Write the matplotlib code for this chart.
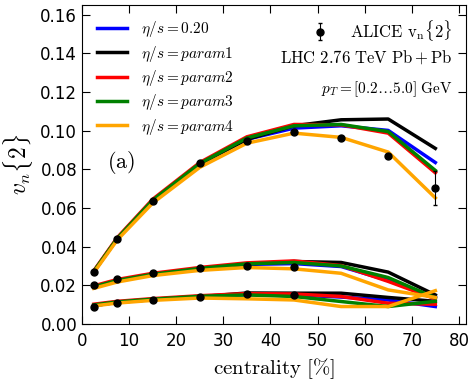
import matplotlib
matplotlib.use("Agg")
import matplotlib.pyplot as plt

plt.rcParams['mathtext.fontset'] = 'cm'
plt.rcParams['font.size'] = 12

cent = [2.5, 7.5, 15, 25, 35, 45, 55, 65, 75]
labels = [r'$\eta/s=0.20$', r'$\eta/s=param1$', r'$\eta/s=param2$',
          r'$\eta/s=param3$', r'$\eta/s=param4$']
colors = ['blue', 'black', 'red', 'green', 'orange']

# model v2{2}
v2 = [
    [0.0270, 0.0442, 0.0638, 0.0828, 0.0955, 0.1013, 0.1025, 0.1001, 0.0835],
    [0.0270, 0.0442, 0.0638, 0.0828, 0.0955, 0.1025, 0.1056, 0.1060, 0.0908],
    [0.0275, 0.0447, 0.0645, 0.0835, 0.0968, 0.1032, 0.1030, 0.0987, 0.0782],
    [0.0272, 0.0443, 0.0640, 0.0830, 0.0962, 0.1025, 0.1032, 0.0995, 0.0794],
    [0.0265, 0.0435, 0.0625, 0.0810, 0.0935, 0.0987, 0.0965, 0.0889, 0.0652],
]
# model v3{2}
v3 = [
    [0.0190, 0.0224, 0.0256, 0.0285, 0.0308, 0.0312, 0.0297, 0.0225, 0.0140],
    [0.0190, 0.0224, 0.0256, 0.0285, 0.0310, 0.0323, 0.0318, 0.0268, 0.0150],
    [0.0197, 0.0230, 0.0262, 0.0292, 0.0316, 0.0326, 0.0302, 0.0220, 0.0130],
    [0.0192, 0.0225, 0.0257, 0.0287, 0.0311, 0.0318, 0.0300, 0.0240, 0.0135],
    [0.0184, 0.0217, 0.0250, 0.0277, 0.0292, 0.0285, 0.0262, 0.0176, 0.0137],
]
# model v4{2}
v4 = [
    [0.0095, 0.0112, 0.0126, 0.0140, 0.0152, 0.0150, 0.0139, 0.0124, 0.0090],
    [0.0095, 0.0112, 0.0126, 0.0141, 0.0160, 0.0159, 0.0159, 0.0137, 0.0117],
    [0.0102, 0.0117, 0.0131, 0.0146, 0.0157, 0.0155, 0.0142, 0.0107, 0.0102],
    [0.0098, 0.0114, 0.0128, 0.0143, 0.0150, 0.0142, 0.0116, 0.0090, 0.0117],
    [0.0093, 0.0108, 0.0122, 0.0134, 0.0130, 0.0124, 0.0090, 0.0090, 0.0172],
]

# ALICE data
alice_v2 = [0.0269, 0.0440, 0.0637, 0.0834, 0.0948, 0.0994, 0.0963, 0.0870, 0.0704]
alice_v2_err = [0.0003, 0.0003, 0.0003, 0.0004, 0.0004, 0.0005, 0.0006, 0.0010, 0.0088]
cent_hi = [2.5, 7.5, 15, 25, 35, 45]
alice_v3 = [0.0202, 0.0233, 0.0264, 0.0290, 0.0300, 0.0296]
alice_v4 = [0.0088, 0.0109, 0.0124, 0.0139, 0.0155, 0.0150]

fig = plt.figure(figsize=(4.74, 3.82), dpi=100)
ax = fig.add_axes([0.173, 0.152, 0.81, 0.835])

for i in range(5):
    ax.plot(cent, v2[i], color=colors[i], lw=2.5, label=labels[i])
    ax.plot(cent, v3[i], color=colors[i], lw=2.5)
    ax.plot(cent, v4[i], color=colors[i], lw=2.5)

eb = ax.errorbar(cent, alice_v2, yerr=alice_v2_err, fmt='o', color='black',
                 ms=5, elinewidth=0.8, capsize=1.5, zorder=5)
ax.plot(cent_hi, alice_v3, 'o', color='black', ms=5, zorder=5)
ax.plot(cent_hi, alice_v4, 'o', color='black', ms=5, zorder=5)

ax.set_xlim(0, 81.5)
ax.set_ylim(0, 0.165)
ax.set_xticks(range(0, 81, 10))
ax.set_yticks([0.0, 0.02, 0.04, 0.06, 0.08, 0.10, 0.12, 0.14, 0.16])
ax.tick_params(direction='in', top=True, right=True, length=6, labelsize=12)
ax.tick_params(axis='x', pad=6)

ax.set_xlabel(r'$\mathrm{centrality\ [\%]}$', fontsize=15)
ax.set_ylabel(r'$v_n\{2\}$', fontsize=17)

handles, labs = ax.get_legend_handles_labels()
leg1 = ax.legend(handles[:5], labs[:5], loc='upper left', frameon=False,
                 fontsize=11, handlelength=2.0, handletextpad=0.9,
                 borderaxespad=0.55, labelspacing=0.28)
ax.add_artist(leg1)
ax.legend([eb], [r'$\mathrm{ALICE\ v_n\{2\}}$'], loc='upper right',
          frameon=False, fontsize=12, handlelength=1.2, handletextpad=1.2,
          borderaxespad=0.4)

ax.text(0.965, 0.835, r'$\mathrm{LHC\ 2.76\ TeV\ Pb+Pb}$', transform=ax.transAxes,
        ha='right', va='center', fontsize=12)
ax.text(0.965, 0.737, r'$p_T = [0.2 \ldots 5.0]\ \mathrm{GeV}$',
        transform=ax.transAxes, ha='right', va='center', fontsize=11)
ax.text(0.065, 0.505, r'$\mathrm{(a)}$', transform=ax.transAxes,
        ha='left', va='center', fontsize=16)

fig.savefig('out.png', dpi=100)
